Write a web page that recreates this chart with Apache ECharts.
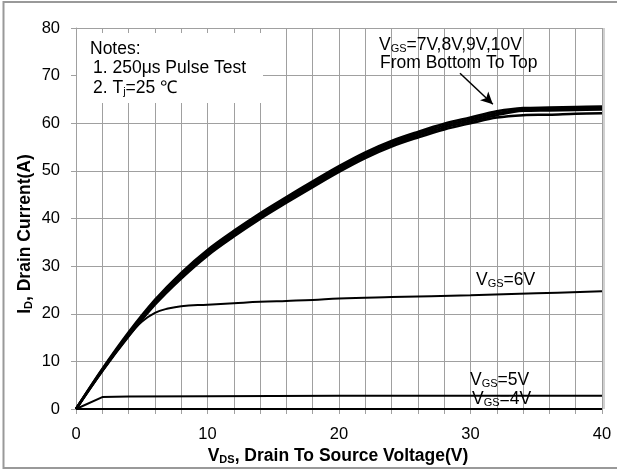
<!DOCTYPE html>
<html><head><meta charset="utf-8">
<script src="https://cdn.jsdelivr.net/npm/echarts@6/dist/echarts.min.js"></script>
<style>html,body{margin:0;padding:0;background:#fff}#c{width:617px;height:470px}</style>
</head><body><div id="c"></div>
<script>
// Drain-source voltage (V) sample points
const vds = [0,2,4,6,8,10,12,14,16,18,20,22,24,26,28,30,32,34,36,38,40];
const id10 = [0,8.4,16.1,22.9,28.6,33.4,37.4,41.1,44.5,47.8,51.0,53.9,56.3,58.2,59.9,61.2,62.5,63.2,63.3,63.4,63.5];
const id9  = [0,8.3,15.8,22.6,28.2,33.0,37.0,40.7,44.1,47.4,50.6,53.5,55.9,57.8,59.5,60.8,62.1,62.9,63.0,63.1,63.2];
const id8  = [0,8.1,15.6,22.2,27.8,32.6,36.6,40.3,43.7,47.0,50.2,53.1,55.5,57.4,59.1,60.4,61.7,62.6,62.7,62.8,62.9];
const id7  = [0,8.0,15.3,21.9,27.4,32.2,36.2,39.9,43.3,46.6,49.8,52.7,55.1,57.0,58.7,60.0,61.2,61.7,61.8,62.0,62.1];
const vds6 = [0,2,4,5,6,7,8,10,12,14,16,18,20,24,30,35,40];
const id6  = [0,8.0,15.3,18.3,20.2,21.1,21.6,21.9,22.2,22.5,22.7,22.9,23.2,23.5,23.9,24.3,24.7];
const vds5 = [0,2,4,10,20,30,40];
const id5  = [0,2.5,2.6,2.7,2.8,2.8,2.8];
const vds4 = [0,40];
const id4  = [0,0];
const xTicks = [0,10,20,30,40];
const yTicks = [0,10,20,30,40,50,60,70,80];

const FONT = "Liberation Sans";
const pair = (xs, ys) => xs.map((x, i) => [x, ys[i]]);
const chart = echarts.init(document.getElementById('c'));
const lineS = (name, xs, ys, w, smooth) => ({
  name, type: 'line', data: pair(xs, ys), showSymbol: false, smooth: smooth,
  lineStyle: { color: '#000', width: w }, itemStyle: { color: '#000' }, z: 3, animation: false
});
const mkRich = (fs, bold, subColor) => ({
  n: { fontSize: fs, fontFamily: FONT, fontWeight: bold ? 'bold' : 'normal', color: '#000' },
  s: { fontSize: 11, fontFamily: FONT, fontWeight: bold ? 'bold' : 'normal', color: subColor || '#000', padding: [7, 0, 0, 0] }
});
const txt = (x, y, text, fs, extra) => ({
  type: 'text', x, y, z: 10,
  style: Object.assign({ text, fontSize: fs, fontFamily: FONT, fill: '#000', rich: mkRich(fs, false, '#444'), verticalAlign: 'middle' }, extra || {})
});
const series = [
  lineS('4V', vds4, id4, 2, false),
  lineS('5V', vds5, id5, 2, false),
  lineS('6V', vds6, id6, 2, 0.4),
  lineS('7V', vds, id7, 2.5, 0.35),
  lineS('8V', vds, id8, 2.5, 0.35),
  lineS('9V', vds, id9, 2.5, 0.35),
  lineS('10V', vds, id10, 2.5, 0.35)
];
series[6].markLine = {
  silent: true, symbol: ['none', 'arrow'], symbolSize: [9, 12],
  lineStyle: { color: '#000', width: 1.5, type: 'solid' }, label: { show: false },
  data: [[{ coord: [29.2, 70.5] }, { coord: [31.7, 64.0] }]], animation: false
};
chart.setOption({
  animation: false,
  backgroundColor: '#fff',
  grid: { left: 76, right: 15, top: 28, bottom: 61 },
  xAxis: {
    type: 'value', min: 0, max: 40, interval: 2,
    axisLine: { show: true, lineStyle: { color: '#a0a0a0', width: 1 } },
    axisTick: { show: true, length: 5, lineStyle: { color: '#a0a0a0' } },
    splitLine: { show: true, lineStyle: { color: '#a0a0a0', width: 1 } },
    axisLabel: { margin: 17, color: '#000', fontSize: 16.5, fontFamily: FONT,
      formatter: v => xTicks.indexOf(v) >= 0 ? String(v) : '' }
  },
  yAxis: {
    type: 'value', min: 0, max: 80, interval: 10,
    axisLine: { show: true, lineStyle: { color: '#a0a0a0', width: 1 } },
    axisTick: { show: true, length: 5, lineStyle: { color: '#a0a0a0' } },
    splitLine: { show: true, lineStyle: { color: '#a0a0a0', width: 1 } },
    axisLabel: { margin: 16, color: '#000', fontSize: 16.5, fontFamily: FONT,
      formatter: v => yTicks.indexOf(v) >= 0 ? String(v) : '' }
  },
  graphic: [
    { type: 'rect', z: 1, shape: { x: 603, y: 28, width: 2, height: 381 }, style: { fill: '#d0d0d0' } },
    { type: 'rect', z: 5, shape: { x: 77, y: 33, width: 186, height: 70 }, style: { fill: '#fff' } },
    { type: 'rect', z: 20, shape: { x: 3.5, y: 2, width: 640, height: 466 }, style: { fill: 'none', stroke: '#999', lineWidth: 2 } },
    txt(90, 49, 'Notes:', 17.5),
    txt(93, 68, '1. 250μs Pulse Test', 17.5),
    txt(93, 88, '{n|2. T}{s|j}{n|=25 ℃}', 17.5, { rich: mkRich(17.5, false, '#000') }),
    txt(379, 45, '{n|V}{s|GS}{n|=7V,8V,9V,10V}', 17.5),
    txt(380, 63, 'From Bottom To Top', 17.5),
    txt(476, 280, '{n|V}{s|GS}{n|=6V}', 17.5),
    txt(470, 380, '{n|V}{s|GS}{n|=5V}', 17.5),
    txt(472, 399, '{n|V}{s|GS}{n|=4V}', 17.5),
    txt(338, 456, '{n|V}{s|DS}{n|, Drain To Source Voltage(V)}', 17.5, { align: 'center', rich: mkRich(17.5, true) }),
    { type: 'text', x: 25, y: 234, rotation: Math.PI / 2, z: 10,
      style: { text: '{n|I}{s|D}{n|, Drain Current(A)}', align: 'center', verticalAlign: 'middle', rich: mkRich(17.5, true) } }
  ],
  series
});
</script></body></html>
